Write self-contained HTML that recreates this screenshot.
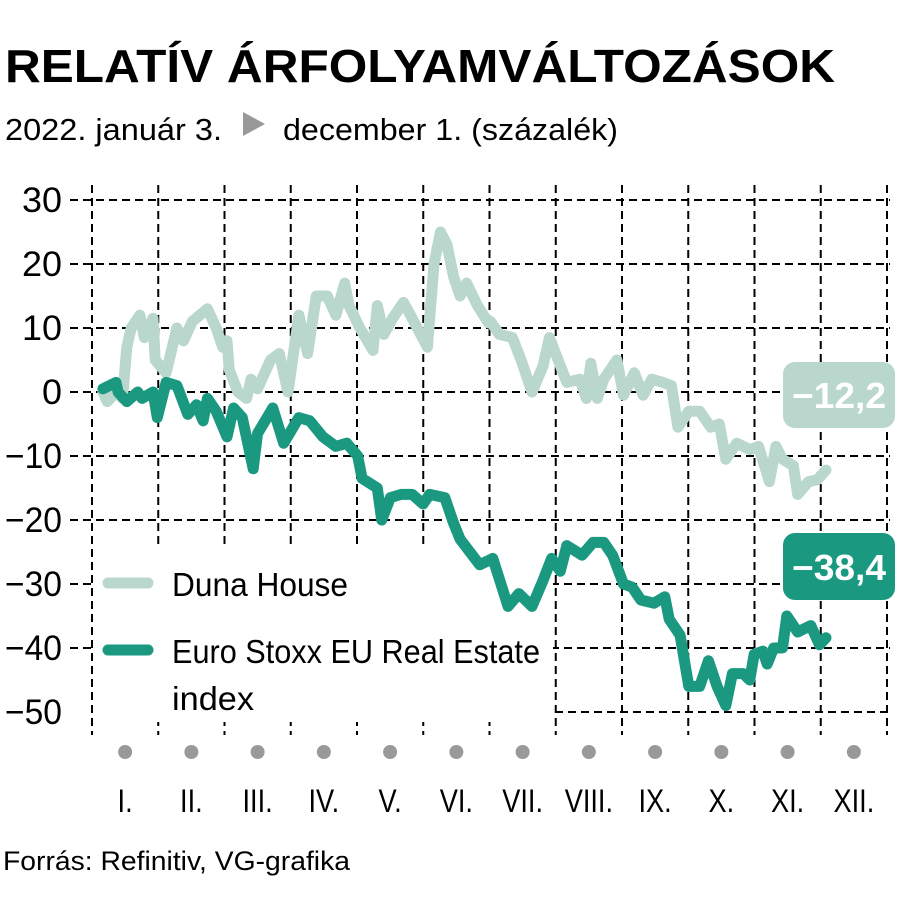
<!DOCTYPE html>
<html><head><meta charset="utf-8"><style>
body{margin:0;background:#fff}
svg{display:block;font-family:"Liberation Sans",sans-serif}
</style></head><body>
<svg id="chart" width="900" height="900" viewBox="0 0 900 900">
<text x="5" y="82" font-size="46" font-weight="bold" textLength="830" lengthAdjust="spacingAndGlyphs">RELATÍV ÁRFOLYAMVÁLTOZÁSOK</text>
<text x="5" y="140" font-size="31" textLength="217" lengthAdjust="spacingAndGlyphs">2022. január 3.</text>
<polygon points="243,112 265,124 243,136" fill="#999"/>
<text x="283" y="140" font-size="31" textLength="335" lengthAdjust="spacingAndGlyphs">december 1. (százalék)</text>
<g id="grid"></g>
<rect x="95" y="545" width="458" height="177" fill="#fff"/>
<g id="yaxis"></g>
<g id="xaxis"></g>
<g id="series"></g>
<g>
<line x1="108" y1="583" x2="148" y2="583" stroke="#b9d7cc" stroke-width="11" stroke-linecap="round"/>
<text x="172" y="596" font-size="33" textLength="176" lengthAdjust="spacingAndGlyphs">Duna House</text>
<line x1="108" y1="650" x2="148" y2="650" stroke="#1a9980" stroke-width="11" stroke-linecap="round"/>
<text x="172" y="663" font-size="33" textLength="368" lengthAdjust="spacingAndGlyphs">Euro Stoxx EU Real Estate</text>
<text x="172" y="710" font-size="33" textLength="82" lengthAdjust="spacingAndGlyphs">index</text>
</g>
<g>
<rect x="783" y="362" width="112" height="66" rx="12" fill="#b9d7cc"/>
<text x="839" y="408" font-size="36" font-weight="bold" fill="#fff" text-anchor="middle" textLength="94" lengthAdjust="spacingAndGlyphs">−12,2</text>
</g>
<g>
<rect x="783" y="533" width="112" height="67" rx="12" fill="#1a9980"/>
<text x="839" y="580" font-size="36" font-weight="bold" fill="#fff" text-anchor="middle" textLength="94" lengthAdjust="spacingAndGlyphs">−38,4</text>
</g>
<text x="3" y="870" font-size="27" textLength="347" lengthAdjust="spacingAndGlyphs">Forrás: Refinitiv, VG-grafika</text>
</svg>
<script>
const yTicks=[30,20,10,0,-10,-20,-30,-40,-50];
const yTickLabels=["30","20","10","0","−10","−20","−30","−40","−50"];
const monthLabels=["I.","II.","III.","IV.","V.","VI.","VII.","VIII.","IX.","X.","XI.","XII."];
const dunaDays=[5,7,11,14,16,18,22,24,28,29,34,39,42,46,53,57,60,62,63,67,71,73,76,82,86,90,95,99,103,108,112,116,118,123,129,131,134,138,143,147,154,157,160,163,166,169,172,177,182,183,187,193,197,202,207,210,214,218,224,227,229,232,235,241,244,249,253,257,262,266,269,274,279,284,288,291,296,302,306,311,314,317,322,324,329,333,337];
const dunaValues=[0,-1.5,0,-1,7,10,12,8.5,11.5,5,3,10,8,11,13,10,7,8,3.5,0,-1,2,0.5,5,6,0,12,6,15,15,12,17,13.5,10,6.5,13.5,9,11.5,14,11.5,7,20,25,23,18,15,17,13.5,10.8,11,9,8.5,5,0,4,8.5,5,1.5,2,-1,4.5,-1,2,5,-0.5,3,-0.5,2,1.5,1,-5.5,-3,-3,-5.5,-5,-10.5,-8,-9,-8.5,-14,-8.5,-10.5,-11.5,-16,-14,-13.7,-12.2];
const stoxxDays=[5,11,12,16,21,23,28,30,34,39,44,48,51,53,57,62,65,69,74,76,83,88,95,100,106,112,117,122,124,131,133,137,142,147,152,155,162,166,169,178,184,191,196,202,207,211,215,218,225,230,235,239,244,248,252,258,263,265,270,274,279,283,287,291,294,299,302,304,308,310,313,317,319,324,330,334,337];
const stoxxValues=[0.5,1.5,0,-1.5,0,-1,0,-4,1.5,1,-3.5,-2,-4.5,-1,-3,-7,-2.5,-4,-12,-6.5,-2.5,-8,-4,-4.5,-7,-8.5,-8,-10,-13.5,-15,-20,-16.5,-16,-16,-17.5,-16,-16.5,-20.5,-23,-27,-26,-33.5,-31.5,-33.5,-29.5,-26,-28,-24,-25.5,-23.5,-23.5,-25.5,-30,-30.5,-32.5,-33,-32,-35.5,-38,-46,-46,-42,-46,-49,-44,-44,-45,-41,-40.5,-42.5,-40,-40,-35,-37.5,-36.5,-39.5,-38.4];
const NS="http://www.w3.org/2000/svg";
const X0=92,X1=887,Y0=392,PER10=64;
function xDay(d){return X0+(X1-X0)*d/365;}
function xMonth(m){return X0+(X1-X0)*m/12;}
function yVal(v){return Y0-v*PER10/10;}
function mk(tag,attrs,parent){const e=document.createElementNS(NS,tag);for(const k in attrs)e.setAttribute(k,attrs[k]);parent.appendChild(e);return e;}
const grid=document.getElementById('grid'),yax=document.getElementById('yaxis'),xax=document.getElementById('xaxis'),ser=document.getElementById('series');
yTicks.forEach((t,i)=>{
  const y=yVal(t);
  const l=mk('line',{x1:(t<=-50?555:70),x2:890,y1:y,y2:y,stroke:'#000','stroke-width':2,'stroke-dasharray':'8 5'},grid);
  
  
  const lab=yTickLabels[i];
  const w=lab.length===1?20:(lab.length===2?40:57);
  const tx=mk('text',{x:62-w,y:y+12,'font-size':35,textLength:w,lengthAdjust:'spacingAndGlyphs'},yax);
  tx.textContent=lab;
  
  
});
for(let m=0;m<=12;m++){
  const x=xMonth(m);
  const l=mk('line',{x1:x,x2:x,y1:185,y2:735,stroke:'#000','stroke-width':2,'stroke-dasharray':'8 5'},grid);
  
  
}
monthLabels.forEach((lab,i)=>{
  const x=xMonth(i+0.5);
  const c=mk('circle',{cx:x,cy:752,r:7,fill:'#999'},xax);
  
  
  const t=mk('text',{x:x,y:812,'font-size':32,'text-anchor':'middle',transform:'translate('+x+' 0) scale(0.85 1) translate('+(-x)+' 0)'},xax);
  t.textContent=lab;
  
  
});
function drawLine(days,vals,color,name){
  const d=days.map((dd,i)=>(i?'L':'M')+xDay(dd).toFixed(1)+','+yVal(vals[i]).toFixed(1)).join(' ');
  const p=mk('path',{d:d,fill:'none',stroke:color,'stroke-width':11,'stroke-linejoin':'round','stroke-linecap':'round'},ser);
  
  
}
drawLine(dunaDays,dunaValues,'#b9d7cc','duna-house-line');
drawLine(stoxxDays,stoxxValues,'#1a9980','euro-stoxx-line');
</script>
</body></html>
